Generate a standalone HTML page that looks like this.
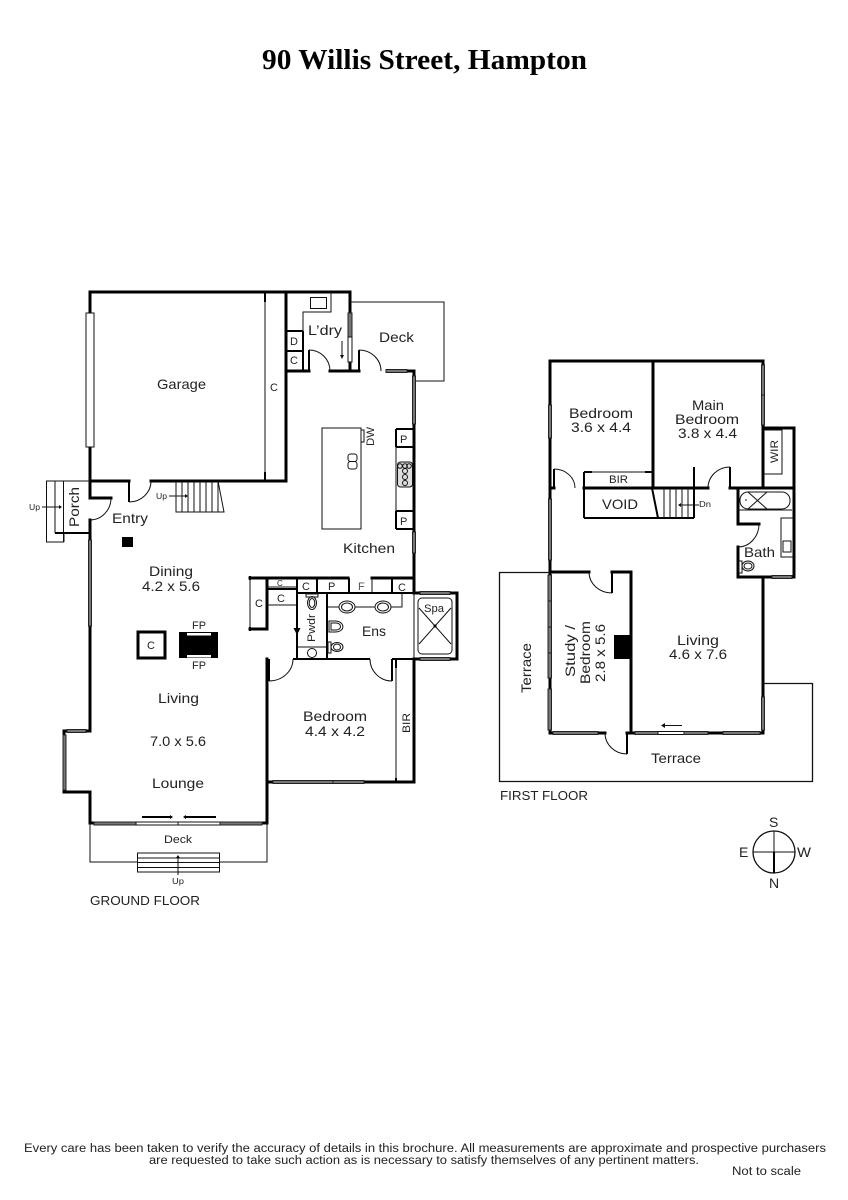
<!DOCTYPE html>
<html><head><meta charset="utf-8"><style>
html,body{margin:0;padding:0;background:#fff}
svg{display:block}
text{font-family:"Liberation Sans",sans-serif;fill:#222}
.w{stroke:#000;stroke-width:3;fill:none;stroke-linecap:square}
.m{stroke:#000;stroke-width:2;fill:none;stroke-linecap:butt}
.t{stroke:#111;stroke-width:1;fill:none}
.g{stroke:#222;stroke-width:1;fill:#777}
.o{stroke:#111;stroke-width:1;fill:#fff}
</style></head><body>
<svg width="848" height="1200" viewBox="0 0 848 1200" xmlns="http://www.w3.org/2000/svg">
<rect width="848" height="1200" fill="#fff"/>
<text x="262" y="69" font-size="28" textLength="325" lengthAdjust="spacingAndGlyphs" style="font-family:'Liberation Serif',serif;font-weight:bold;fill:#000">90 Willis Street, Hampton</text>

<!-- GROUND FLOOR walls -->
<path class="w" d="M90 481V292H350V371H330M359 371H350M309 371H286V292M286 371V481H151M129 481H90"/>
<path class="w" d="M90 481V498H111M90 520V540M90 626V731H64V792H90V823H267V659M393 371H414V593M414 532V553"/>
<path class="m" d="M309 371V350M359 371V350M129 481V502"/>
<path class="t" d="M129 502A22 21 0 0 0 151 481M309 350A21 21 0 0 1 330 371M359 350A22 21 0 0 1 381 371M111 498A21 22 0 0 1 90 520"/>
<path class="t" d="M265 293V481"/><path class="m" d="M265 293V302M265 472V481"/>
<path class="t" d="M350 302H444V381H414"/>

<!-- garage window -->
<rect class="o" x="86" y="313" width="8" height="134"/>
<!-- laundry -->
<rect class="g" x="348" y="313" width="4" height="24"/><rect class="o" x="348" y="337" width="4" height="25"/>
<path class="m" d="M286 331H303M286 351H303M303 331V371"/>
<path class="t" d="M303 331V312H331V292"/>
<rect class="t" x="310.500" y="297.500" width="16" height="11"/>
<path class="t" d="M342 341V355"/><path d="M340 355h4l-2 4z" fill="#111"/>
<!-- deck windows right -->
<rect class="g" x="386" y="369.500" width="21" height="3"/>
<rect class="g" x="412.500" y="376" width="3" height="48"/>
<rect class="g" x="412.500" y="532" width="3" height="21"/>
<!-- kitchen -->
<rect class="t" x="322" y="428" width="39" height="101"/>
<rect class="t" x="361" y="430" width="3" height="12"/>
<rect class="t" x="348" y="454" width="9" height="7.500" rx="2.500"/><rect class="t" x="348" y="461.500" width="9" height="7.500" rx="2.500"/>
<path class="m" d="M396 429H414M396 447H414M396 429V447M396 511H414M396 529H414M396 511V529"/>
<path class="t" d="M396 447V511"/>
<rect x="397.500" y="462" width="15" height="25" rx="3" fill="#ddd" stroke="#111"/>
<g class="t"><circle cx="400" cy="466" r="2.300"/><circle cx="405" cy="466" r="2.300"/><circle cx="409" cy="466" r="2.300"/><circle cx="405" cy="471" r="2.500"/><circle cx="405" cy="477" r="2.500"/><circle cx="405" cy="483" r="2.500"/></g>

<!-- porch -->
<path class="t" d="M90 481H46.500V542H63.500V481M64 533V542"/>
<path class="t" d="M55 481V533"/><path class="m" d="M55 533H90"/>
<rect class="g" x="88.500" y="540" width="3" height="86"/>
<path class="t" d="M42 507H60"/><path d="M59 505l3 2-3 2z" fill="#111"/>
<rect x="122" y="537" width="11" height="10" fill="#000"/>
<!-- stairs -->
<path class="t" d="M176 481V512H224L218 481M182 481V512M188 481V512M194 481V512M200 481V512M206 481V512M212 481V512M218 481V512"/>
<path class="t" d="M169 496H186"/><path d="M185 494l3 2-3 2z" fill="#111"/>

<!-- cupboards cluster -->
<path class="w" d="M250 578H348M372 578H414M250 629H267M250 578H267V629"/>
<path class="m" d="M267 589H296M297 578V659M297 593H414M317 578V593M349 578V593M392 578V593M327 593V659M293 659H370M392 659H414"/>
<path class="t" d="M250 578V629M267 587H296M267 605H297M372 578V593"/>
<path class="m" d="M250 576V580M250 627V631"/>
<path class="m" d="M269 659V681M392 659V681"/>
<path class="t" d="M269 681A24 22 0 0 0 293 659M370 659A22 22 0 0 0 392 681"/>
<path d="M293.500 628h7l-3.500 7z" fill="#000"/>
<!-- pwdr -->
<rect class="o" x="306" y="594" width="12" height="3"/>
<ellipse class="t" cx="312" cy="603" rx="4.500" ry="6.500"/><ellipse class="t" cx="312" cy="603" rx="2.800" ry="4.500"/>
<path class="t" d="M297 647H327"/>
<ellipse class="t" cx="312" cy="653" rx="4.500" ry="4.500"/>
<!-- ens -->
<path class="t" d="M327 607H402V593"/>
<ellipse class="o" cx="347" cy="607" rx="8" ry="6"/><ellipse class="t" cx="347" cy="607" rx="5.500" ry="4"/>
<ellipse class="o" cx="383" cy="607" rx="8" ry="6"/><ellipse class="t" cx="383" cy="607" rx="5.500" ry="4"/>
<path class="t" d="M329 621H335C345 621 346 632 335 632H329ZM331 623H336C342 623 342 630 336 630H331Z"/>
<rect class="o" x="328" y="642" width="3" height="11"/>
<ellipse class="t" cx="337" cy="647" rx="6" ry="4.500"/><ellipse class="t" cx="337" cy="647" rx="3.500" ry="3"/>
<!-- spa -->
<path class="w" d="M414 593H457V659H414"/>
<path class="t" d="M414 593V659"/>
<rect class="g" x="420" y="591.500" width="30" height="3"/><rect class="g" x="420" y="657.500" width="30" height="3"/>
<rect class="t" x="418" y="598" width="34" height="56" rx="4"/>
<path class="t" d="M419 608L451 644M451 608L419 644"/>
<circle cx="435" cy="626" r="1.500" fill="#000"/>
<!-- bedroom -->
<path class="w" d="M267 782H414V659"/>
<rect class="g" x="273" y="780.500" width="60" height="3"/><rect class="g" x="333" y="780.500" width="31" height="3"/>
<path class="t" d="M396 660V782"/><path class="m" d="M396 659V668M396 778V782"/>
<!-- FP + C -->
<rect class="w" x="138" y="632" width="27" height="26" stroke-width="2.500"/>
<rect x="179" y="632" width="39" height="26" fill="#000"/>
<rect x="187" y="633" width="24" height="2.500" fill="#fff"/><rect x="187" y="655" width="24" height="2.500" fill="#fff"/>
<!-- bay -->
<rect class="g" x="63" y="735" width="3" height="55"/>
<rect class="g" x="67" y="729.500" width="19" height="3"/>
<!-- sliding & deck -->
<rect class="g" x="94" y="822" width="42" height="3"/><rect class="o" x="136" y="822" width="42" height="3"/><rect class="o" x="178" y="822" width="42" height="3"/><rect class="g" x="220" y="822" width="42" height="3"/>
<path class="m" d="M142 817H170M216 817H186" stroke-width="1.200"/>
<path d="M170 815l3 2-3 2zM186 815l-3 2 3 2z" fill="#000"/>
<path class="t" d="M90 823V862H137M219 862H267V823"/>
<rect class="t" x="137.500" y="853" width="82" height="19"/>
<path class="t" d="M137 858H219M137 862.500H219M137 867.500H219M178 875V857"/>
<path d="M176 858l2-3 2 3z" fill="#000"/>

<!-- FIRST FLOOR -->
<path class="w" d="M550 490V361H763V425M763 425V488M653 361V488M584 488H694M554 488H550M708 488H694M730 488H794M763 428H794V577H738V547M738 488V524H759"/>
<path class="m" d="M554 488V469M730 488V467M694 467V518M584 472V518M584 518H694"/>
<path class="t" d="M554 469A21 19 0 0 1 575 488M708 488A22 21 0 0 1 730 467M759 524A21 23 0 0 1 738 547"/>
<path class="m" d="M584 472H592M645 472H653"/><path class="t" d="M584 472H653"/>
<path class="m" d="M652 488L658 518"/>
<path class="t" d="M664 488V518M670 488V518M676 488V518M682 488V518M688 488V518"/>
<path class="t" d="M680 505H699"/><path d="M681 503l-3 2 3 2z" fill="#111"/>
<rect class="g" x="548.500" y="405" width="3" height="33"/>
<rect class="g" x="761.500" y="365" width="3" height="30"/><rect class="g" x="761.500" y="395" width="3" height="30"/>
<path class="t" d="M764 430H782V474H764"/>
<!-- bath -->
<path class="t" d="M738 510H792"/>
<rect class="t" x="740" y="492" width="50" height="17" rx="8"/>
<path class="t" d="M748 492L767 509M767 492L748 509"/><circle cx="746" cy="500" r=".8" fill="#111"/>
<path class="t" d="M793 518H781V557H793"/><rect class="t" x="783" y="541" width="8" height="11"/>
<rect class="o" x="739" y="561" width="3" height="12"/>
<ellipse class="t" cx="748" cy="566" rx="6" ry="5"/><ellipse class="t" cx="748" cy="566" rx="4" ry="3"/>
<rect class="g" x="772" y="575.500" width="20" height="3"/>
<!-- lower first floor -->
<path class="w" d="M550 488V572M550 572H589M612 572H631V733M550 572V733H605M627 733H763V577"/>
<path class="m" d="M612 593V572M627 754V733"/>
<path class="t" d="M589 572A23 21 0 0 0 612 593M605 733A22 21 0 0 0 627 754"/>
<path d="M499 572.500H550M499.500 572V782M499 781.500H812.500V683.500H763" fill="none" stroke="#111" stroke-width="1.300"/>
<rect class="g" x="548.500" y="499" width="3" height="61"/>
<rect class="g" x="548" y="575" width="3.500" height="26"/><rect class="g" x="548" y="601" width="3.500" height="26"/><rect class="g" x="548" y="627" width="3.500" height="26"/><rect class="g" x="548" y="653" width="3.500" height="25"/><rect class="g" x="548" y="689" width="3.500" height="41"/>
<rect class="g" x="553" y="731.500" width="45" height="3"/>
<rect class="g" x="635" y="731.500" width="23" height="3"/><rect class="o" x="658" y="731.500" width="26" height="3"/><rect class="g" x="684" y="731.500" width="24" height="3"/><rect class="g" x="723" y="731.500" width="37" height="3"/>
<rect class="g" x="761.500" y="697" width="3" height="33"/>
<rect x="614" y="635" width="17" height="24" fill="#000"/>
<path class="t" d="M664 725.500H682"/><path d="M665 723l-4 2.500 4 2.500z" fill="#111"/>

<!-- compass -->
<circle cx="774" cy="852" r="21" fill="none" stroke="#111" stroke-width="1.300"/>
<path d="M753 852H795M774 831V852" stroke="#111" stroke-width="1" fill="none"/>
<path d="M774 852V873" stroke="#000" stroke-width="2" fill="none"/>

<!-- labels -->
<g font-size="14">
<text x="157" y="389" textLength="49" lengthAdjust="spacingAndGlyphs">Garage</text>
<text x="308" y="335" textLength="34" lengthAdjust="spacingAndGlyphs">L’dry</text>
<text x="379" y="342" textLength="35" lengthAdjust="spacingAndGlyphs">Deck</text>
<text x="343" y="553" textLength="52" lengthAdjust="spacingAndGlyphs">Kitchen</text>
<text x="112" y="523" textLength="36" lengthAdjust="spacingAndGlyphs">Entry</text>
<text x="149" y="576" textLength="44" lengthAdjust="spacingAndGlyphs">Dining</text>
<text x="142" y="591" textLength="58" lengthAdjust="spacingAndGlyphs">4.2 x 5.6</text>
<text x="158" y="703" textLength="41" lengthAdjust="spacingAndGlyphs">Living</text>
<text x="150" y="746" textLength="56" lengthAdjust="spacingAndGlyphs">7.0 x 5.6</text>
<text x="152" y="788" textLength="52" lengthAdjust="spacingAndGlyphs">Lounge</text>
<text x="303" y="721" textLength="64" lengthAdjust="spacingAndGlyphs">Bedroom</text>
<text x="305" y="736" textLength="60" lengthAdjust="spacingAndGlyphs">4.4 x 4.2</text>
<text x="362" y="636" textLength="24" lengthAdjust="spacingAndGlyphs">Ens</text>
<text x="569" y="418" textLength="64" lengthAdjust="spacingAndGlyphs">Bedroom</text>
<text x="571" y="432" textLength="60" lengthAdjust="spacingAndGlyphs">3.6 x 4.4</text>
<text x="692" y="410" textLength="32" lengthAdjust="spacingAndGlyphs">Main</text>
<text x="675" y="424" textLength="64" lengthAdjust="spacingAndGlyphs">Bedroom</text>
<text x="678" y="438" textLength="59" lengthAdjust="spacingAndGlyphs">3.8 x 4.4</text>
<text x="602" y="509" textLength="36" lengthAdjust="spacingAndGlyphs">VOID</text>
<text x="744" y="557" textLength="31" lengthAdjust="spacingAndGlyphs">Bath</text>
<text x="677" y="645" textLength="42" lengthAdjust="spacingAndGlyphs">Living</text>
<text x="669" y="659" textLength="58" lengthAdjust="spacingAndGlyphs">4.6 x 7.6</text>
<text x="651" y="763" textLength="50" lengthAdjust="spacingAndGlyphs">Terrace</text>
<text transform="translate(79 527) rotate(-90)" textLength="40" lengthAdjust="spacingAndGlyphs">Porch</text>
<text transform="translate(531 693) rotate(-90)" textLength="50" lengthAdjust="spacingAndGlyphs">Terrace</text>
<text transform="translate(575 677) rotate(-90)" textLength="52" lengthAdjust="spacingAndGlyphs">Study /</text>
<text transform="translate(590 684) rotate(-90)" textLength="63" lengthAdjust="spacingAndGlyphs">Bedroom</text>
<text transform="translate(605 682) rotate(-90)" textLength="58" lengthAdjust="spacingAndGlyphs">2.8 x 5.6</text>
<text x="769" y="827">S</text>
<text x="769" y="888">N</text>
<text x="739" y="857">E</text>
<text x="797" y="857" textLength="14" lengthAdjust="spacingAndGlyphs">W</text>
</g>
<g font-size="11">
<text x="270" y="391">C</text>
<text x="290" y="345">D</text>
<text x="290" y="364">C</text>
<text x="400" y="443">P</text>
<text x="400" y="525">P</text>
<text x="255" y="607">C</text>
<text x="277" y="602">C</text>
<text x="302" y="590">C</text>
<text x="328" y="590">P</text>
<text x="358" y="590" style="fill:#555">F</text>
<text x="398" y="591">C</text>
<text x="147" y="649">C</text>
<text x="424" y="612" textLength="20" lengthAdjust="spacingAndGlyphs">Spa</text>
<text x="192" y="629" textLength="14" lengthAdjust="spacingAndGlyphs">FP</text>
<text x="192" y="669" textLength="14" lengthAdjust="spacingAndGlyphs">FP</text>
<text x="164" y="843" textLength="28" lengthAdjust="spacingAndGlyphs">Deck</text>
<text x="609" y="483" textLength="19" lengthAdjust="spacingAndGlyphs">BIR</text>
<text transform="translate(410 733) rotate(-90)" textLength="20" lengthAdjust="spacingAndGlyphs">BIR</text>
<text transform="translate(778 463) rotate(-90)" textLength="23" lengthAdjust="spacingAndGlyphs">WIR</text>
<text transform="translate(315 642) rotate(-90)" textLength="28" lengthAdjust="spacingAndGlyphs">Pwdr</text>
<text transform="translate(374 446) rotate(-90)" textLength="19" lengthAdjust="spacingAndGlyphs">DW</text>
<text x="90" y="905" font-size="13" textLength="110" lengthAdjust="spacingAndGlyphs">GROUND FLOOR</text>
<text x="500" y="800" font-size="13" textLength="88" lengthAdjust="spacingAndGlyphs">FIRST FLOOR</text>
</g>
<text x="277" y="586" font-size="8">C</text>
<g font-size="8">
<text x="156" y="499" textLength="11" lengthAdjust="spacingAndGlyphs">Up</text>
<text x="29" y="510" textLength="11" lengthAdjust="spacingAndGlyphs">Up</text>
<text x="172" y="884" textLength="12" lengthAdjust="spacingAndGlyphs">Up</text>
<text x="699" y="507" textLength="12" lengthAdjust="spacingAndGlyphs">Dn</text>
</g>
<g font-size="11.500">
<text x="24" y="1152" textLength="802" lengthAdjust="spacingAndGlyphs">Every care has been taken to verify the accuracy of details in this brochure.  All measurements are approximate and prospective purchasers</text>
<text x="149" y="1164" textLength="550" lengthAdjust="spacingAndGlyphs">are requested to take such action as is necessary to satisfy themselves of any pertinent matters.</text>
<text x="732" y="1175" textLength="69" lengthAdjust="spacingAndGlyphs">Not to scale</text>
</g>
</svg>
</body></html>
